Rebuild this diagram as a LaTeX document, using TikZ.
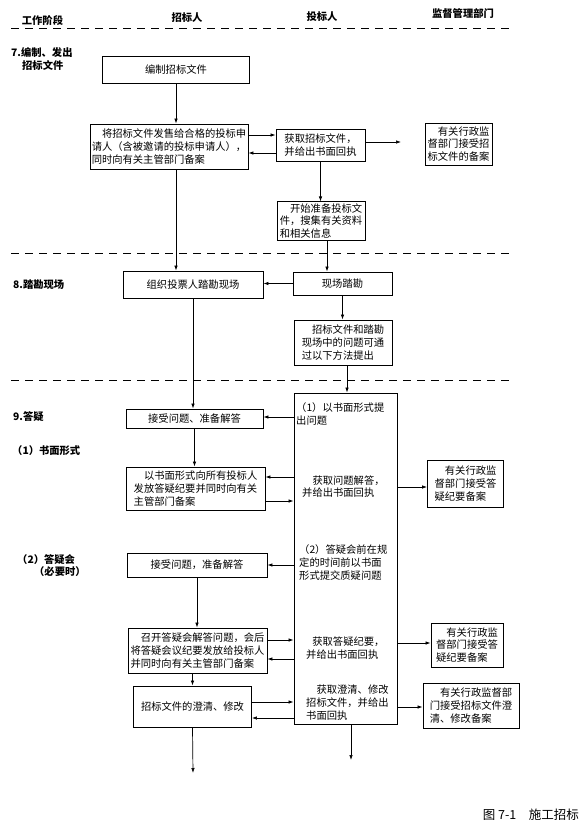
\documentclass[tikz,border=0pt]{standalone}
\usepackage{fontspec}
\newfontfamily\cjk{Noto Sans CJK SC}
\usetikzlibrary{arrows.meta}

\begin{document}
\begin{tikzpicture}[x=1pt, y=-1pt,
    box/.style={draw, line width=0.9pt, inner sep=1.5pt, align=left,
      font=\cjk\fontsize{10.3}{12.8}\selectfont},
    txt/.style={inner sep=0pt, anchor=west, align=left,
      font=\cjk\fontsize{10.3}{12.8}\selectfont},
    lbl/.style={inner sep=0pt, anchor=west, align=left,
      font=\cjk\bfseries\fontsize{10.3}{12.3}\selectfont},
    hdr/.style={inner sep=0pt, font=\cjk\bfseries\fontsize{10.3}{12}\selectfont},
    arr/.style={-{Latex[length=5pt,width=3.5pt]}, line width=0.7pt},
    sep/.style={dash pattern=on 8pt off 6pt, line width=0.8pt}]
\useasboundingbox (0,0) rectangle (582,831);

%% header and stage separators
\node[hdr] (h0) at (42.5,21) {工作阶段};
\node[hdr] (h1) at (187,18) {招标人};
\node[hdr] (h2) at (322,17) {投标人};
\node[hdr] (h3) at (463,14) {监督管理部门};
\foreach \y in {28,253,380}{
  \draw[sep] (11,\y) -- (512,\y);
}

%% 7. compile and issue the documents
\node[lbl] (lb7) at (11,59) {7.编制、发出\\\hspace*{11pt}招标文件};
\node[box, minimum width=147pt, minimum height=27pt] (bz) at (176,69.5) {编制招标文件};
\node[box, minimum width=158pt, minimum height=45pt] (fs) at (169,146.5)
  {\hspace*{1em}将招标文件发售给合格的投标申\\请人（含被邀请的投标申请人），\\同时向有关主管部门备案};
\node[box, minimum width=89pt, minimum height=32pt] (hq) at (320.5,145)
  {获取招标文件，\\并给出书面回执};
\node[box, minimum width=67pt, minimum height=42pt] (ba1) at (458.5,144)
  {\hspace*{1em}有关行政监\\督部门接受招\\标文件的备案};
\node[box, minimum width=88pt, minimum height=38pt] (zb) at (321,221)
  {\hspace*{1em}开始准备投标文\\件，搜集有关资料\\和相关信息};
\coordinate (hqend) at (401,142);

\draw[arr] (bz.south) -- (bz.south |- fs.north);
\draw[arr] (fs.east |- 0,135) -- (hq.west |- 0,135);
\draw[arr] (hq.west |- 0,153) -- (fs.east |- 0,153);
\draw[arr] (hq.east |- hqend) -- (hqend);
\draw[arr] (hq.south) -- (hq.south |- zb.north);

%% 8. site visit
\node[lbl] (lb8) at (13,285) {8.踏勘现场};
\node[box, minimum width=140pt, minimum height=27pt] (zz) at (193,284.5) {组织投票人踏勘现场};
\node[box, minimum width=99pt, minimum height=23pt] (xc) at (342.5,283.5) {现场踏勘};
\node[box, minimum width=98pt, minimum height=45pt] (wt) at (343,342.5)
  {\hspace*{1em}招标文件和踏勘\\现场中的问题可通\\过以下方法提出};

\draw[arr] (176,0 |- fs.south) -- (176,0 |- zz.north);
\draw[arr] (327,0 |- zb.south) -- (327,0 |- xc.north);
\draw[arr] (xc.west) -- (xc.west -| zz.east);
\draw[arr] (xc.south) -- (xc.south |- wt.north);

%% 9. questions and answers
\node[lbl] (lb9) at (13,417) {9.答疑};
\node[lbl] (lb91) at (12,451) {（1）书面形式};
\node[lbl] (lb92) at (17,565.5) {（2）答疑会\\\hspace*{17pt}（必要时）};
\node[box, minimum width=103pt, minimum height=331pt] (dy) at (345.5,558.5) {};
\node[txt] (t1) at (296,413.7) {（1）以书面形式提\\出问题};
\node[txt] (t2) at (302,486.5) {\hspace*{1em}获取问题解答，\\并给出书面回执};
\node[txt] (t3) at (299,562.5) {（2）答疑会前在规\\定的时间前以书面\\形式提交质疑问题};
\node[txt] (t4) at (306,648) {\hspace*{0.6em}获取答疑纪要，\\并给出书面回执};
\node[txt] (t5) at (306,702.5) {\hspace*{1em}获取澄清、修改\\招标文件，并给出\\书面回执};

% written form
\node[box, minimum width=137pt, minimum height=19pt] (js1) at (194.5,418.5) {接受问题、准备解答};
\node[box, minimum width=139pt, minimum height=43pt] (sm) at (195.5,488.5)
  {\hspace*{1em}以书面形式向所有投标人\\发放答疑纪要并同时向有关\\主管部门备案};
\node[box, minimum width=76pt, minimum height=47pt] (db1) at (465.5,483.5)
  {\hspace*{1em}有关行政监\\督部门接受答\\疑纪要备案};

\draw[arr] (zz.south) -- (zz.south |- js1.north);
\draw[arr] (347,0 |- wt.south) -- (347,0 |- dy.north);
\draw[arr] (dy.west |- 0,417) -- (js1.east |- 0,417);
\draw[arr] (js1.south) -- (js1.south |- sm.north);
\draw[arr] (dy.west |- 0,477) -- (sm.east |- 0,477);
\draw[arr] (sm.east |- 0,501) -- (dy.west |- 0,501);
\draw[arr] (dy.east |- 0,487) -- (db1.west |- 0,487);

% meeting
\node[box, minimum width=140pt, minimum height=24pt] (js2) at (197,565) {接受问题，准备解答};
\node[box, minimum width=139pt, minimum height=45pt] (zk) at (197.5,650.5)
  {\hspace*{1em}召开答疑会解答问题，会后\\将答疑会议纪要发放给投标人\\并同时向有关主管部门备案};
\node[box, minimum width=72pt, minimum height=44pt] (db2) at (467,645)
  {\hspace*{1em}有关行政监\\督部门接受答\\疑纪要备案};
\node[box, minimum width=118pt, minimum height=41pt] (cq) at (192.5,706.5) {招标文件的澄清、修改};
\node[box, minimum width=96pt, minimum height=45pt] (bx) at (471,705.5)
  {\hspace*{1em}有关行政监督部\\门接受招标文件澄\\清、修改备案};
\coordinate (cqend) at (193,773);
\coordinate (dyend) at (351,760);

\draw[arr] (dy.west |- js2.east) -- (js2.east);
\draw[arr] (js2.south) -- (js2.south |- zk.north);
\draw[arr] (zk.east |- 0,640) -- (dy.west |- 0,640);
\draw[arr] (dy.west |- 0,659) -- (zk.east |- 0,659);
\draw[arr] (dy.east |- 0,643) -- (db2.west |- 0,643);
\draw[arr] (cq.north |- zk.south) -- (cq.north);
\draw[arr] (cq.east |- 0,702) -- (dy.west |- 0,702);
\draw[arr] (dy.west |- 0,718) -- (cq.east |- 0,718);
\draw[arr] (dy.east |- 0,707) -- (bx.west |- 0,707);
\draw[arr] (cq.south) -- (cqend);
\draw[arr] (dyend |- dy.south) -- (dyend);

%% caption
\node[inner sep=0pt, anchor=east, font=\cjk\fontsize{12.5}{14}\selectfont] (cap) at (579,815)
  {图 7-1\hspace{1em}施工招标};
\end{tikzpicture}
\end{document}
